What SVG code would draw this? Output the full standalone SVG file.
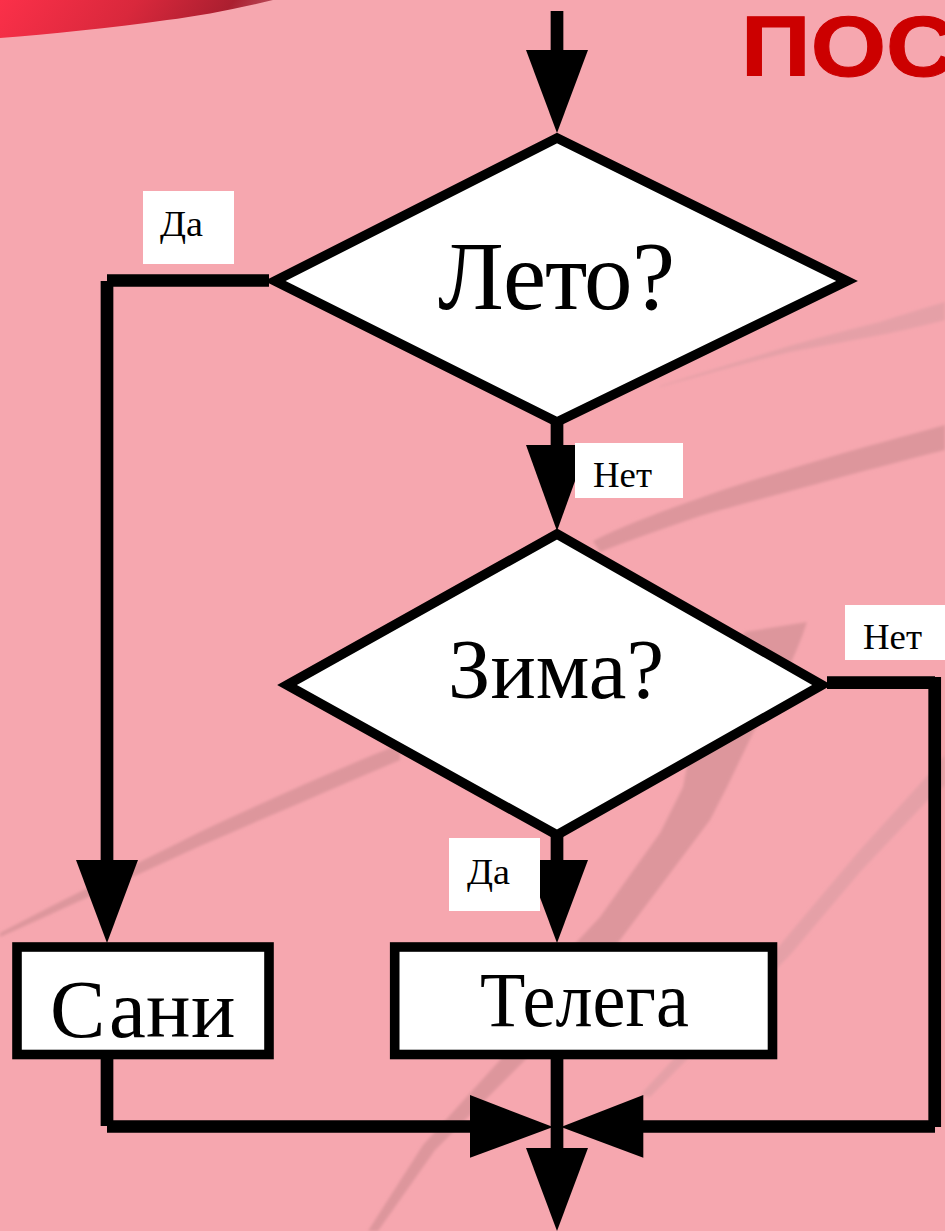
<svg xmlns="http://www.w3.org/2000/svg" width="945" height="1231" viewBox="0 0 945 1231">
<style>
.s{fill:none;stroke:#000;stroke-width:12.7;stroke-linecap:butt}
.n{fill:#fff;stroke:#000;stroke-width:9.6;stroke-linejoin:miter}
.h{fill:#000}
.b{fill:#fff}
.t{font-family:"Liberation Serif",serif;fill:#000}
.streak{fill:#dd969c}
.faint{fill:#e5a0a7}
</style>
<defs>
<linearGradient id="red" x1="0" y1="0" x2="1" y2="0.1"><stop offset="0" stop-color="#fb3049"/><stop offset=".5" stop-color="#d9283c"/><stop offset=".85" stop-color="#ab1f30"/><stop offset="1" stop-color="#b84a58"/></linearGradient>
<filter id="soft" x="-5%" y="-5%" width="110%" height="110%"><feGaussianBlur stdDeviation="1.6"/></filter>
</defs>
<g id="background">
<rect width="945" height="1231" fill="#f6a7af"/>
<path d="M0 0H273C235 9 200 16 167 20C110 28 50 34 0 38Z" fill="url(#red)"/>
<g filter="url(#soft)">
<path class="streak" d="M0 933C70 896 140 862 200 832C260 804 330 772 400 744L400 760C330 790 260 820 200 846C130 878 60 910 0 937Z"/>
<path class="streak" d="M593 541C625 525 660 512 700 498C745 482 780 472 820 460C860 448 905 436 945 425V450C905 460 860 472 820 483C780 494 740 504 700 516C665 528 630 540 600 552Z"/>
<path class="faint" d="M660 386C690 376 725 366 760 355C800 342 840 332 880 322C905 314 925 308 945 302V320C925 325 905 330 880 335C850 341 820 346 790 352C750 362 700 376 660 387Z"/>
<path class="streak" d="M807 622L745 632L700 700L683 787L660 833L600 917L560 960L500 1060L423 1145L368 1231L378 1231L435 1150L525 1060L620 940L710 820L727 787L753 733C775 695 795 660 807 622Z"/>
<path class="faint" d="M945 755L928 775L860 850L780 945L640 1095L650 1097L790 955L860 872L928 800L945 785Z"/>
</g>
</g>
<text id="title" x="741" y="76" font-family="'Liberation Sans',sans-serif" font-weight="700" font-size="85" fill="#c00" stroke="#c00" stroke-width="1" textLength="215" lengthAdjust="spacingAndGlyphs">ПОС</text>
<g id="connectors">
<path class="s" d="M557 11V60"/>
<polygon class="h" points="526,50 588,50 557,133"/>
<path class="s" d="M269 280.5H107M107 281V870"/>
<polygon class="h" points="76,860 138,860 107,943"/>
<path class="s" d="M557 420V460"/>
<polygon class="h" points="526,445 588,445 557,531"/>
<path class="s" d="M557 835V870"/>
<polygon class="h" points="526,860 588,860 557,943"/>
<path class="s" d="M827 682.7H935M934.7 677V1127M935 1126.5H640"/>
<polygon class="h" points="643.3,1095 643.3,1157.7 561,1127"/>
<path class="s" d="M107 1058V1126M107 1126.5H480"/>
<polygon class="h" points="470,1095 470,1157.7 553,1127"/>
<path class="s" d="M557 1058V1160"/>
<polygon class="h" points="526,1148 588,1148 557,1231"/>
</g>
<g id="label-da-1"><rect class="b" x="143" y="191" width="91" height="73"/><text class="t" x="160" y="236" font-size="36" textLength="43" lengthAdjust="spacingAndGlyphs">Да</text></g>
<g id="label-net-1"><rect class="b" x="575" y="443" width="108" height="55"/><text class="t" x="593" y="487" font-size="36" textLength="59" lengthAdjust="spacingAndGlyphs">Нет</text></g>
<g id="label-net-2"><rect class="b" x="845" y="605" width="100" height="55"/><text class="t" x="863" y="649" font-size="36" textLength="59" lengthAdjust="spacingAndGlyphs">Нет</text></g>
<g id="label-da-2"><rect class="b" x="449" y="838" width="91" height="73"/><text class="t" x="467" y="884" font-size="36" textLength="43" lengthAdjust="spacingAndGlyphs">Да</text></g>
<g id="node-leto"><polygon class="n" points="557,138 847,281 557,422 275,281"/><text class="t" x="438 503 545 584 632" y="308.5" font-size="97">Лето?</text></g>
<g id="node-zima"><polygon class="n" points="557,534 822,685 557,835 287,685"/><text class="t" x="448" y="698" font-size="85" textLength="216" lengthAdjust="spacingAndGlyphs">Зима?</text></g>
<g id="node-sani"><rect class="n" x="17" y="947" width="252" height="107.5"/><text class="t" x="50 109 146 191" y="1036.5" font-size="83">Сани</text></g>
<g id="node-telega"><rect class="n" x="394.7" y="947" width="377.8" height="107.5"/><text class="t" x="480" y="1026" font-size="78" textLength="209" lengthAdjust="spacingAndGlyphs">Телега</text></g>
</svg>
